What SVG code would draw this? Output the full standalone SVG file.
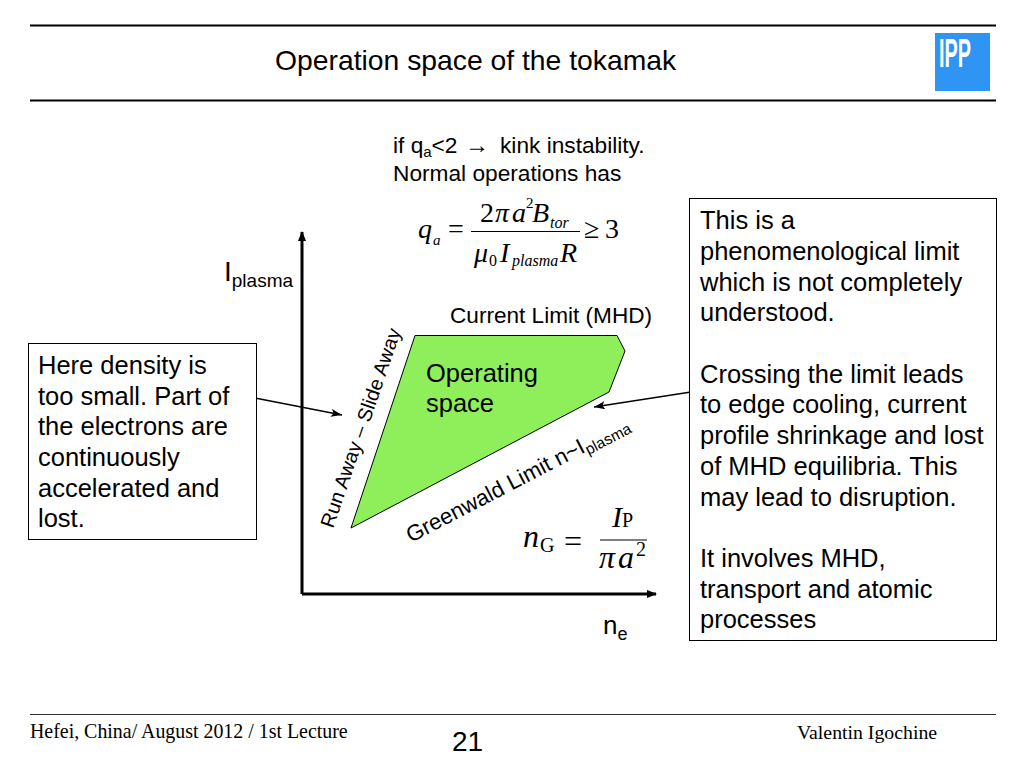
<svg xmlns="http://www.w3.org/2000/svg" width="1024" height="768" viewBox="0 0 1024 768">
<style>
text{font-family:"Liberation Sans",Arial,sans-serif;fill:#000}
.t{font-size:25.500px}
.m{font-size:22.700px}
.s{font-family:"Liberation Serif","Times New Roman",serif}
.i{font-family:"Liberation Serif","Times New Roman",serif;font-style:italic}
.box{fill:#fff;stroke:#000;stroke-width:1}
.conn{stroke:#000;fill:none}
</style>
<defs>
<marker id="a" markerWidth="12" markerHeight="10" refX="11" refY="4" orient="auto" markerUnits="userSpaceOnUse"><path d="M0 0L11 4L0 8L2.500 4Z" fill="#000"/></marker>
<marker id="b" markerWidth="12" markerHeight="10" refX="9" refY="4" orient="auto" markerUnits="userSpaceOnUse"><path d="M0 0L10 4L0 8Z" fill="#000"/></marker>
</defs>
<rect width="1024" height="768" fill="#fff"/>
<g id="header">
<path d="M30 25.500H996" stroke="#000" stroke-width="2"/>
<path d="M30 100.500H996" stroke="#000" stroke-width="2"/>
<text x="275" y="70" font-size="28.300">Operation space of the tokamak</text>
</g>
<g id="logo">
<rect x="935" y="33" width="55" height="58" fill="#2f95f5"/>
<text x="939" y="67" font-size="40" font-weight="bold" style="fill:#fff" textLength="32" lengthAdjust="spacingAndGlyphs">IPP</text>
</g>
<g id="note-top">
<text x="393" y="153" class="m">if q<tspan font-size="15" dy="4">a</tspan><tspan dy="-4">&lt;2</tspan></text>
<text x="465" y="153" font-size="24" class="s">→</text>
<text x="500" y="153" class="m">kink instability.</text>
<text x="393" y="181" class="m">Normal operations has</text>
</g>
<g id="formula-q">
<text x="418" y="238" font-size="28" class="i">q</text>
<text x="433" y="245" font-size="15" class="i">a</text>
<text x="448" y="238" font-size="28" class="s">=</text>
<path d="M471 231.500H580" stroke="#000" stroke-width="1.200"/>
<text x="480" y="222" font-size="28" class="s">2</text>
<text x="495" y="222" font-size="28" class="i">π</text>
<text x="512" y="222" font-size="28" class="i">a</text>
<text x="526" y="208" font-size="15" class="s">2</text>
<text x="532" y="222" font-size="28" class="i">B</text>
<text x="550" y="228" font-size="16" class="i">tor</text>
<text x="474" y="262" font-size="28" class="i">μ</text>
<text x="489" y="266" font-size="16" class="s">0</text>
<text x="500" y="262" font-size="28" class="i">I</text>
<text x="512" y="266" font-size="16" class="i">plasma</text>
<text x="560" y="262" font-size="28" class="i">R</text>
<text x="584" y="238" font-size="28" class="s">≥</text>
<text x="605" y="238" font-size="28" class="s">3</text>
</g>
<g id="connectors">
<path class="conn" stroke-width="3" marker-end="url(#b)" d="M302 594V232"/>
<path class="conn" stroke-width="3" marker-end="url(#b)" d="M302 594H656"/>
<path class="conn" stroke-width="1.300" marker-end="url(#a)" d="M255 398L342 415"/>
<path class="conn" stroke-width="1.300" marker-end="url(#a)" d="M691 392L594 407"/>
</g>
<g id="operating-space">
<path d="M415 335.500H617L625 351L609 392L351 528Z" fill="#8fef5a" stroke="#000" stroke-width="1"/>
<text x="426" y="382" class="t">Operating</text>
<text x="426" y="412" class="t">space</text>
</g>
<g id="axis-labels">
<text x="224" y="281" font-size="28">I<tspan font-size="19" dy="6">plasma</tspan></text>
<text x="603" y="634" font-size="26">n<tspan font-size="18" dy="6">e</tspan></text>
</g>
<g id="limit-labels">
<text x="450" y="323" class="m" style="font-size:22.600px">Current Limit (MHD)</text>
<text transform="translate(333 529) rotate(-71)" font-size="20">Run Away – Slide Away</text>
<text transform="translate(411 543) rotate(-27.500)" font-size="22.200">Greenwald Limit n~I<tspan font-size="15.500" dy="4">plasma</tspan></text>
</g>
<g id="formula-n">
<text x="523" y="547" font-size="32" class="i">n</text>
<text x="540" y="552" font-size="20" class="s">G</text>
<text x="564" y="552" font-size="32" class="s">=</text>
<path d="M600 540H647" stroke="#000" stroke-width="1.200"/>
<text x="612" y="527" font-size="30" class="i">I</text>
<text x="622" y="527" font-size="20" class="s">P</text>
<text x="599" y="568" font-size="32" class="i">π</text>
<text x="618" y="568" font-size="32" class="i">a</text>
<text x="636" y="556" font-size="20" class="s">2</text>
</g>
<g id="left-box">
<rect class="box" x="28.500" y="343.500" width="228" height="196"/>
<text class="t"><tspan x="38" y="374">Here density is</tspan><tspan x="38" y="405">too small. Part of</tspan><tspan x="38" y="435">the electrons are</tspan><tspan x="38" y="466">continuously</tspan><tspan x="38" y="497">accelerated and</tspan><tspan x="38" y="527">lost.</tspan></text>
</g>
<g id="right-box">
<rect class="box" x="689.500" y="198.500" width="307" height="442"/>
<text class="t"><tspan x="700" y="229">This is a</tspan><tspan x="700" y="260">phenomenological limit</tspan><tspan x="700" y="291">which is not completely</tspan><tspan x="700" y="321">understood.</tspan><tspan x="700" y="383">Crossing the limit leads</tspan><tspan x="700" y="413">to edge cooling, current</tspan><tspan x="700" y="444">profile shrinkage and lost</tspan><tspan x="700" y="475">of MHD equilibria. This</tspan><tspan x="700" y="506">may lead to disruption.</tspan><tspan x="700" y="567">It involves MHD,</tspan><tspan x="700" y="598">transport and atomic</tspan><tspan x="700" y="628">processes</tspan></text>
</g>
<g id="footer">
<path d="M30 714.500H996" stroke="#333" stroke-width="1"/>
<text x="30" y="738" font-size="19.900" class="s">Hefei, China/ August 2012 / 1st Lecture</text>
<text x="797" y="739" font-size="19.800" class="s">Valentin Igochine</text>
<text x="452" y="751" font-size="28">21</text>
</g>
</svg>
